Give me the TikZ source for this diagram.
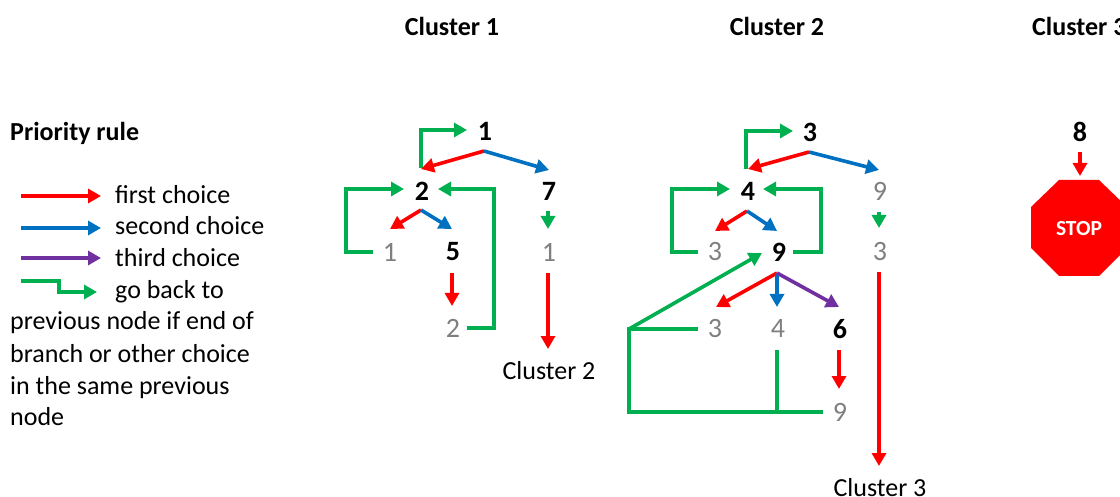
\documentclass[tikz,border=0pt]{standalone}
\usepackage{fontspec}
\setmainfont{Carlito}
\usetikzlibrary{arrows.meta}
\definecolor{cred}{HTML}{FF0000}
\definecolor{cblue}{HTML}{0070C0}
\definecolor{cpurple}{HTML}{7030A0}
\definecolor{cgreen}{HTML}{00B050}
\definecolor{cgrey}{HTML}{7F7F7F}
\tikzset{
  lab/.style={inner sep=0pt,font=\fontsize{26}{26}\selectfont,text=black},
  hd/.style={lab,font=\fontsize{26}{26}\selectfont\bfseries},
  act/.style={lab,font=\fontsize{28}{28}\selectfont\bfseries},
  old/.style={lab,font=\fontsize{28}{28}\selectfont,text=cgrey},
  txt/.style={lab,anchor=base west},
  arr/.style={line width=3.6pt,-{Triangle[length=13pt,width=14pt]},line join=miter},
  rarr/.style={arr,draw=cred},
  barr/.style={arr,draw=cblue},
  parr/.style={arr,draw=cpurple},
  garr/.style={arr,draw=cgreen},
  gline/.style={line width=3.6pt,draw=cgreen,line join=miter},
}
\begin{document}
\begin{tikzpicture}[x=1pt,y=-1pt]
\useasboundingbox (0,0) rectangle (1120,497);
\clip (0,0) rectangle (1120,497);
% headings
\node[hd] (h1) at (452,26) {Cluster 1};
\node[hd] (h2) at (777,26) {Cluster 2};
\node[hd,anchor=west] (h3) at (1032,26) {Cluster 3};
% legend
\node[hd,anchor=base west] (pr) at (10,141) {Priority rule};
\node[txt] (l1) at (115,204) {first choice};
\node[txt] (l2) at (115,235) {second choice};
\node[txt] (l3) at (115,267) {third choice};
\node[txt] (l4) at (115,299) {go back to};
\node[txt] (l5) at (10,330) {previous node if end of};
\node[txt] (l6) at (10,362) {branch or other choice};
\node[txt] (l7) at (10,394) {in the same previous};
\node[txt] (l8) at (10,425) {node};
\coordinate (a1) at (21,196); \coordinate (b1) at (101,196);
\coordinate (a2) at (21,228); \coordinate (b2) at (101,228);
\coordinate (a3) at (21,258); \coordinate (b3) at (101,258);
\coordinate (a4) at (21,281); \coordinate (b4) at (97,292);
\draw[rarr] (a1) -- (b1);
\draw[barr] (a2) -- (b2);
\draw[parr] (a3) -- (b3);
\draw[garr] (a4) -- (59,281) -- (59,292) -- (b4);
% cluster 1
\node[act] (n1) at (485,131) {1};
\node[act] (n2) at (422,191) {2};
\node[act] (n7) at (549,191) {7};
\node[old] (g1) at (390,252) {1};
\node[act] (n5) at (453,252) {5};
\node[old] (g1b) at (549,252) {1};
\node[old] (g2) at (453,328) {2};
\node[lab] (c2) at (549,371) {Cluster 2};
\coordinate (o1) at (484,151);
\coordinate (o1l) at (421,169);
\coordinate (o1r) at (549,170);
\coordinate (o2) at (421,210);
\draw[gline] (420.7,168) -- (420.7,130) -- (440,130);
\draw[garr] (420.7,130) -- (467,130);
\draw[rarr] (o1) -- (o1l);
\draw[barr] (o1) -- (o1r);
\draw[garr] (373,252) -- (346,252) -- (346,189) -- (404,189);
\draw[garr] (467,328) -- (494,328) -- (494,189) -- (438,189);
\draw[rarr] (o2) -- (390,229);
\draw[barr] (o2) -- (452,229);
\draw[rarr] (452,273) -- (452,306);
\draw[garr] (548,211) -- (548,229);
\draw[rarr] (548,273) -- (548,349);
% cluster 2
\node[act] (n3) at (810,132) {3};
\node[act] (n4) at (748,191) {4};
\node[old] (g9) at (880,191) {9};
\node[old] (g3) at (715,252) {3};
\node[act] (n9) at (779,252) {9};
\node[old] (g3b) at (880,252) {3};
\node[old] (g3c) at (715,329) {3};
\node[old] (g4) at (778,329) {4};
\node[act] (n6) at (840,329) {6};
\node[old] (g9b) at (840,412) {9};
\node[lab] (c3) at (880,487.5) {Cluster 3};
\coordinate (o3) at (809,152);
\coordinate (o4) at (747,211);
\coordinate (o9) at (777,273);
\coordinate (k) at (629,329);
\coordinate (m) at (777,412);
\draw[gline] (746,169) -- (746,131) -- (770,131);
\draw[garr] (746,131) -- (793,131);
\draw[rarr] (o3) -- (748,169);
\draw[barr] (o3) -- (879,170);
\draw[garr] (698,252) -- (672,252) -- (672,189) -- (730,189);
\draw[garr] (793,252) -- (821,252) -- (821,189) -- (763,189);
\draw[rarr] (o4) -- (715,231);
\draw[barr] (o4) -- (777,231);
\draw[garr] (879,212) -- (879,228);
\draw[rarr] (879,272) -- (879,466);
\draw[rarr] (o9) -- (716,307);
\draw[barr] (o9) -- (777,307);
\draw[parr] (o9) -- (839,307);
\draw[rarr] (839,350) -- (839,389);
\draw[gline] (698,329) -- (k) -- (629,412) -- (m) -- (823,412);
\draw[gline] (777,350) -- (m);
\draw[garr] (k) -- (762,253);
% cluster 3
\node[act] (n8) at (1080,132) {8};
\fill[cred] (1059,180) -- (1099,180) -- (1127,207) -- (1127,248) -- (1099,276) -- (1059,276) -- (1031,248) -- (1031,207) -- cycle;
\node[lab,text=white,font=\fontsize{21.5}{21.5}\selectfont\bfseries] (st) at (1079,229) {STOP};
\coordinate (s) at (1080,176);
\draw[rarr] (1080,152) -- (s);
\end{tikzpicture}
\end{document}
